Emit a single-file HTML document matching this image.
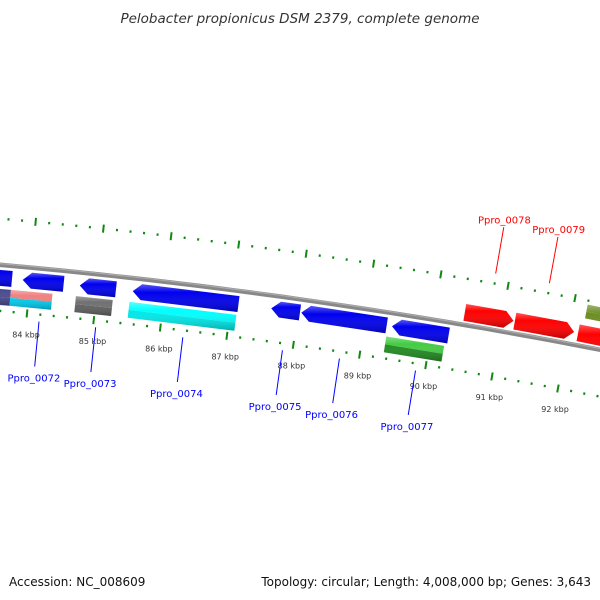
<!DOCTYPE html>
<html><head><meta charset="utf-8"><style>
body{margin:0;background:#fff;width:600px;height:600px;overflow:hidden}
svg{display:block}
text{font-family:"DejaVu Sans","Liberation Sans",sans-serif}
</style></head><body>
<svg id="map" width="600" height="600" viewBox="0 0 600 600">
<defs>
<linearGradient id="shade" x1="0" y1="0" x2="0" y2="1">
<stop offset="0" stop-color="#fff" stop-opacity="0.35"/><stop offset="0.3" stop-color="#fff" stop-opacity="0"/><stop offset="1" stop-color="#000" stop-opacity="0.25"/>
</linearGradient>
</defs>
<text x="300" y="23" text-anchor="middle" font-size="13.5" font-style="italic" fill="#333">Pelobacter propionicus DSM 2379, complete genome</text>
<text x="9" y="586" font-size="12" fill="#111">Accession: NC_008609</text>
<text x="591" y="586" text-anchor="end" font-size="12" fill="#111">Topology: circular; Length: 4,008,000 bp; Genes: 3,643</text>
<g id="ticks"></g><g id="backbone"></g><g id="genes"></g><g id="labels"></g>
</svg>
<script>
// data
const tickKbp = [80,81,82,83,84,85,86,87,88,89,90,91,92,93,94];
const tickLabels = ["80 kbp","81 kbp","82 kbp","83 kbp","84 kbp","85 kbp","86 kbp","87 kbp","88 kbp","89 kbp","90 kbp","91 kbp","92 kbp","93 kbp","94 kbp"];
const geneStart = [82.6, 83.89, 84.74, 85.53, 87.60, 88.05, 89.41, 90.44, 91.19, 92.14];
const geneEnd   = [83.73, 84.50, 85.28, 87.11, 88.03, 89.33, 90.26, 91.17, 92.08, 93.5];
const geneStrand = [-1,-1,-1,-1,-1,-1,-1,1,1,1];
const cogStart = [82.6, 83.73, 84.70, 85.50, 89.35, 92.20];
const cogEnd   = [83.73, 84.35, 85.25, 87.10, 90.22, 93.5];
const cogStrand = [-1,-1,-1,-1,-1,1];
const cogTop = ["#4a4a90","#f08080","#707070","#00ffff","#44cc44","#6b8e23"];
const cogBottom = ["#4a4a90","#00ccee","#606060","#00e8e8","#228b22","#6b8e23"];
const labelNames = ["Ppro_0072","Ppro_0073","Ppro_0074","Ppro_0075","Ppro_0076","Ppro_0077","Ppro_0078","Ppro_0079"];
const labelKbp = [84.19,85.04,86.35,87.85,88.71,89.86,90.79,91.59];
const labelStrand = [-1,-1,-1,-1,-1,-1,1,1];

// geometry
const CX=-514, CY=6053, R=5811, TH0=0.09398, DTH=0.011631;
const ang=k=>TH0+(k-84)*DTH;
const pt=(k,r)=>[CX+r*Math.sin(ang(k)), CY-r*Math.cos(ang(k))];
const NS="http://www.w3.org/2000/svg";
function mk(tag,attrs,parent){const e=document.createElementNS(NS,tag);for(const a in attrs)e.setAttribute(a,attrs[a]);parent.appendChild(e);return e;}
const P=a=>a.map(p=>p[0].toFixed(2)+","+p[1].toFixed(2)).join(" ");

// ticks
const tg=document.getElementById('ticks');
const kMin=tickKbp[0], kMax=tickKbp[tickKbp.length-1];
for(let i=0;i<=(kMax-kMin)*5;i++){
  const k=kMin+i*0.2, major=i%5===0;
  [5765,5857].forEach((r,j)=>{
    const len=major?4:1.2;
    const a=pt(k,r-len), b=pt(k,r+len);
    const l=mk('line',{x1:a[0],y1:a[1],x2:b[0],y2:b[1],stroke:'#118811','stroke-width':2},tg);
    
    
  });
}
tickKbp.forEach((k,i)=>{
  const p=pt(k,5744);
  const t=mk('text',{x:p[0]+1,y:p[1]+3,'text-anchor':'middle','font-size':8,fill:'#333'},tg);
  t.textContent=tickLabels[i];
  
  
});

// backbone
const bg=document.getElementById('backbone');
function arc(r){let s=[];for(let k=80;k<=95;k+=0.25)s.push(pt(k,r));return "M"+s.map(p=>p[0].toFixed(1)+" "+p[1].toFixed(1)).join(" L");}
const bb=mk('path',{d:arc(R),stroke:'#888',fill:'none','stroke-width':4.5},bg);


mk('path',{d:arc(R+1.2),stroke:'#aaa',fill:'none','stroke-width':1.2},bg);

// genes
const gg=document.getElementById('genes');
function gene(s,e,str,r1,r2,head){
  const h=Math.min(head,(e-s)*0.4), rm=(r1+r2)/2;
  if(str<0) return [pt(s,rm),pt(s+h,r2),pt(e,r2),pt(e,r1),pt(s+h,r1)];
  if(str>0 && head>0) return [pt(s,r1),pt(s,r2),pt(e-h,r2),pt(e,rm),pt(e-h,r1)];
  return [pt(s,r1),pt(s,r2),pt(e,r2),pt(e,r1)];
}
geneStart.forEach((s,i)=>{
  const str=geneStrand[i];
  const r1=str>0?R+4:R-21, r2=str>0?R+21:R-5;
  const pts=P(gene(s,geneEnd[i],str,r1,r2,0.13));
  const g=mk('polygon',{points:pts,fill:str>0?'#ff0000':'#0000ee'},gg);
  
  
  mk('polygon',{points:pts,fill:'url(#shade)'},gg);
});
cogStart.forEach((s,i)=>{
  const str=cogStrand[i];
  const r1=str>0?R+28:R-40, r2=str>0?R+42:R-24, rm=(r1+r2)/2;
  const e=cogEnd[i];
  const top=mk('polygon',{points:P([pt(s,rm),pt(s,r2),pt(e,r2),pt(e,rm)]),fill:cogTop[i]},gg);
  
  
  const bot=mk('polygon',{points:P([pt(s,r1),pt(s,rm),pt(e,rm),pt(e,r1)]),fill:cogBottom[i]},gg);
  
  
  mk('polygon',{points:P([pt(s,r1),pt(s,r2),pt(e,r2),pt(e,r1)]),fill:'url(#shade)'},gg);
});

// labels
const lg=document.getElementById('labels');
labelNames.forEach((n,i)=>{
  const k=labelKbp[i], str=labelStrand[i];
  const col=str>0?'#ff0000':'#0000ff';
  const a=str>0?pt(k,5867):pt(k,5758), b=str>0?pt(k,5914):pt(k,5713), t=str>0?pt(k,5918):pt(k,5705);
  const l=mk('line',{x1:a[0],y1:a[1],x2:b[0],y2:b[1],stroke:col,'stroke-width':1},lg);
  
  
  const tx=mk('text',{x:t[0],y:str>0?t[1]:t[1]+7,'text-anchor':'middle','font-size':10,fill:col},lg);
  tx.textContent=n;
  
  
});
</script>
</body></html>
